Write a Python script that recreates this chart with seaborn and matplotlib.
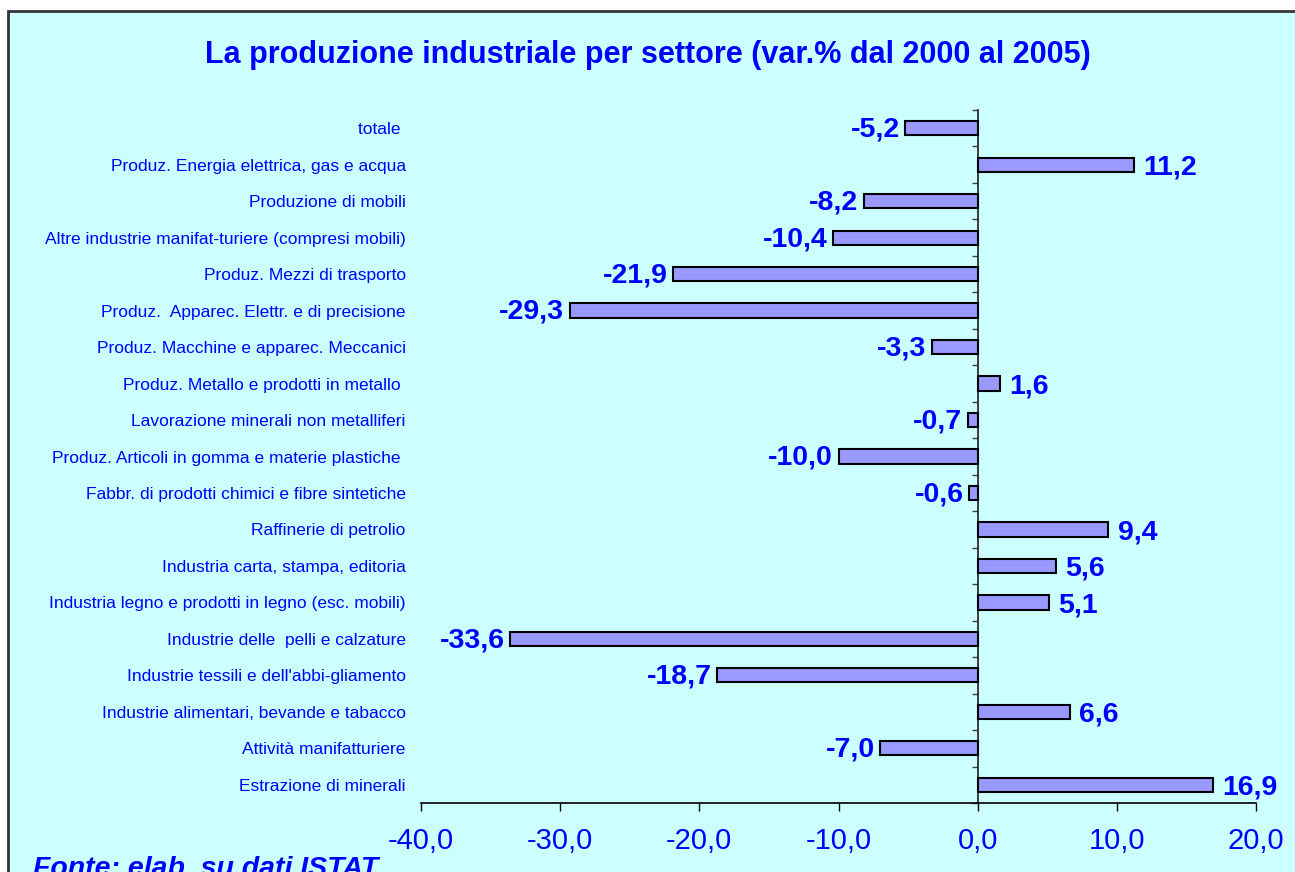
import matplotlib
matplotlib.use("Agg")
import matplotlib.pyplot as plt
import seaborn as sns
import pandas as pd
from matplotlib.patches import Rectangle

categories = [
    "totale ",
    "Produz. Energia elettrica, gas e acqua",
    "Produzione di mobili",
    "Altre industrie manifat-turiere (compresi mobili)",
    "Produz. Mezzi di trasporto",
    "Produz.  Apparec. Elettr. e di precisione",
    "Produz. Macchine e apparec. Meccanici",
    "Produz. Metallo e prodotti in metallo ",
    "Lavorazione minerali non metalliferi",
    "Produz. Articoli in gomma e materie plastiche ",
    "Fabbr. di prodotti chimici e fibre sintetiche",
    "Raffinerie di petrolio",
    "Industria carta, stampa, editoria",
    "Industria legno e prodotti in legno (esc. mobili)",
    "Industrie delle  pelli e calzature",
    "Industrie tessili e dell'abbi-gliamento",
    "Industrie alimentari, bevande e tabacco",
    "Attività manifatturiere",
    "Estrazione di minerali",
]
values = [-5.2, 11.2, -8.2, -10.4, -21.9, -29.3, -3.3, 1.6, -0.7, -10.0,
          -0.6, 9.4, 5.6, 5.1, -33.6, -18.7, 6.6, -7.0, 16.9]
xticks = [-40, -30, -20, -10, 0, 10, 20]
title = "La produzione industriale per settore (var.% dal 2000 al 2005)"
source = "Fonte: elab. su dati ISTAT"

BLUE = "#0000FF"
sns.set_theme(style="white")
plt.rcParams["font.family"] = ["Liberation Sans", "DejaVu Sans"]

df = pd.DataFrame({"cat": categories, "val": values})

fig = plt.figure(figsize=(12.95, 8.72), dpi=100)
fig.patch.set_facecolor("white")
bg = Rectangle((8 / 1295, -0.05), 1.1, 1 - 11 / 872 + 0.05, transform=fig.transFigure,
               facecolor="#CCFFFF", edgecolor="#333333", linewidth=2, zorder=-10)
fig.patches.append(bg)

ax = fig.add_axes([421 / 1295, 1 - 803 / 872, (1256 - 421) / 1295, (803 - 110) / 872])
ax.set_facecolor("none")

sns.barplot(data=df, x="val", y="cat", orient="h", color="#9999FF", saturation=1,
            edgecolor="black", linewidth=1.5, width=0.39, ax=ax)

ax.set_xlim(-40, 20)
ax.set_ylim(len(categories) - 0.5, -0.5)
ax.set_xlabel("")
ax.set_ylabel("")
ax.set_xticks(xticks)
ax.set_xticklabels([f"{t:.1f}".replace(".", ",") for t in xticks], fontsize=21, color=BLUE)
ax.tick_params(axis="x", direction="out", length=6, width=1, color="black", pad=11,
               bottom=True)
ax.tick_params(axis="y", length=0, pad=11)
for lbl in ax.get_yticklabels():
    lbl.set_fontsize(12.5)
    lbl.set_color(BLUE)
for s in ["top", "right", "left"]:
    ax.spines[s].set_visible(False)
ax.spines["bottom"].set_color("black")
ax.spines["bottom"].set_linewidth(1.2)

# zero axis with category boundary ticks
sec = ax.secondary_yaxis(40 / 60)
sec.set_yticks([i - 0.5 for i in range(len(categories) + 1)])
sec.set_yticklabels([])
sec.tick_params(axis="y", direction="in", length=4, width=1, color="#404040")
sec.spines["left"].set_color("#404040")
sec.spines["left"].set_linewidth(1.2)

for i, v in enumerate(values):
    txt = f"{v:.1f}".replace(".", ",")
    if v >= 0:
        ax.annotate(txt, (v, i), xytext=(7, -2), textcoords="offset points",
                    ha="left", va="center", fontsize=20.5, fontweight="bold", color=BLUE)
    else:
        ax.annotate(txt, (v, i), xytext=(-4, -1), textcoords="offset points",
                    ha="right", va="center", fontsize=20.5, fontweight="bold", color=BLUE)

fig.text(0.5, 1 - 55 / 872, title, ha="center", va="center", fontsize=22,
         fontweight="bold", color=BLUE)
fig.text(33 / 1295, -4 / 872, source, ha="left", va="baseline", fontsize=20.5,
         fontweight="bold", fontstyle="italic", color=BLUE)

fig.savefig("out.png", dpi=100)
